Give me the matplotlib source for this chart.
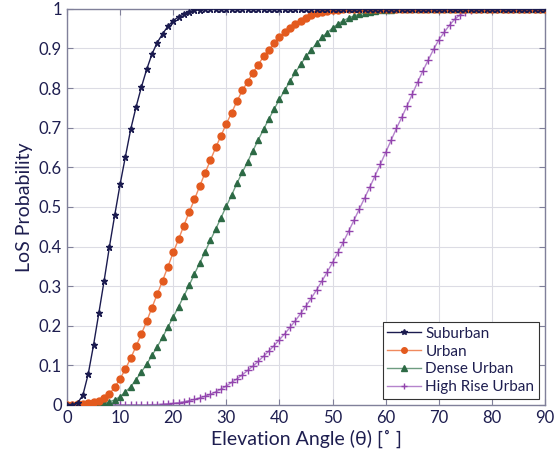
from matplotlib import pyplot as plt

# elevation angle grid (degrees)
angles = list(range(0, 91))

# LoS probability per environment, one value per degree
suburban = [
    0.000, 0.001, 0.005, 0.025, 0.078, 0.151, 0.232, 0.314, 0.400, 0.480,
    0.557, 0.627, 0.696, 0.752, 0.802, 0.847, 0.886, 0.915, 0.937, 0.956,
    0.970, 0.980, 0.988, 0.993, 0.996, 0.998, 0.999, 1.000, 1.000, 1.000,
    1.000, 1.000, 1.000, 1.000, 1.000, 1.000, 1.000, 1.000, 1.000, 1.000,
    1.000, 1.000, 1.000, 1.000, 1.000, 1.000, 1.000, 1.000, 1.000, 1.000,
    1.000, 1.000, 1.000, 1.000, 1.000, 1.000, 1.000, 1.000, 1.000, 1.000,
    1.000, 1.000, 1.000, 1.000, 1.000, 1.000, 1.000, 1.000, 1.000, 1.000,
    1.000, 1.000, 1.000, 1.000, 1.000, 1.000, 1.000, 1.000, 1.000, 1.000,
    1.000, 1.000, 1.000, 1.000, 1.000, 1.000, 1.000, 1.000, 1.000, 1.000,
    1.000,
]
urban = [
    0.001, 0.001, 0.002, 0.003, 0.004, 0.007, 0.011, 0.018, 0.028, 0.045,
    0.066, 0.091, 0.118, 0.148, 0.179, 0.211, 0.246, 0.280, 0.314, 0.349,
    0.385, 0.418, 0.453, 0.487, 0.519, 0.553, 0.586, 0.618, 0.650, 0.680,
    0.710, 0.738, 0.767, 0.794, 0.816, 0.839, 0.859, 0.880, 0.896, 0.913,
    0.928, 0.941, 0.952, 0.962, 0.970, 0.978, 0.984, 0.989, 0.993, 0.995,
    0.997, 0.998, 0.999, 1.000, 1.000, 1.000, 1.000, 1.000, 1.000, 1.000,
    1.000, 1.000, 1.000, 1.000, 1.000, 1.000, 1.000, 1.000, 1.000, 1.000,
    1.000, 1.000, 1.000, 1.000, 1.000, 1.000, 1.000, 1.000, 1.000, 1.000,
    1.000, 1.000, 1.000, 1.000, 1.000, 1.000, 1.000, 1.000, 1.000, 1.000,
    1.000,
]
dense_urban = [
    0.000, 0.000, 0.001, 0.001, 0.001, 0.002, 0.003, 0.005, 0.008, 0.013,
    0.021, 0.033, 0.046, 0.064, 0.083, 0.103, 0.125, 0.147, 0.171, 0.197,
    0.222, 0.248, 0.275, 0.302, 0.331, 0.359, 0.387, 0.416, 0.444, 0.473,
    0.502, 0.530, 0.560, 0.587, 0.614, 0.642, 0.669, 0.696, 0.722, 0.747,
    0.772, 0.795, 0.818, 0.840, 0.860, 0.880, 0.897, 0.913, 0.928, 0.940,
    0.952, 0.962, 0.970, 0.977, 0.982, 0.986, 0.989, 0.992, 0.994, 0.996,
    0.997, 0.998, 0.999, 1.000, 1.000, 1.000, 1.000, 1.000, 1.000, 1.000,
    1.000, 1.000, 1.000, 1.000, 1.000, 1.000, 1.000, 1.000, 1.000, 1.000,
    1.000, 1.000, 1.000, 1.000, 1.000, 1.000, 1.000, 1.000, 1.000, 1.000,
    1.000,
]
high_rise = [
    0.000, 0.000, 0.000, 0.000, 0.000, 0.000, 0.000, 0.000, 0.000, 0.000,
    0.000, 0.000, 0.000, 0.000, 0.000, 0.000, 0.001, 0.001, 0.002, 0.003,
    0.004, 0.006, 0.008, 0.011, 0.014, 0.018, 0.022, 0.027, 0.033, 0.040,
    0.048, 0.057, 0.066, 0.076, 0.087, 0.098, 0.110, 0.123, 0.136, 0.150,
    0.165, 0.180, 0.196, 0.213, 0.231, 0.250, 0.270, 0.291, 0.313, 0.336,
    0.360, 0.385, 0.411, 0.438, 0.466, 0.494, 0.522, 0.550, 0.579, 0.608,
    0.638, 0.668, 0.698, 0.726, 0.755, 0.785, 0.815, 0.844, 0.871, 0.898,
    0.922, 0.941, 0.959, 0.974, 0.985, 0.992, 0.997, 0.999, 1.000, 1.000,
    1.000, 1.000, 1.000, 1.000, 1.000, 1.000, 1.000, 1.000, 1.000, 1.000,
    1.000,
]

labels = ["Suburban", "Urban", "Dense Urban", "High Rise Urban"]
xticks = list(range(0, 91, 10))
yticks = [0, 0.1, 0.2, 0.3, 0.4, 0.5, 0.6, 0.7, 0.8, 0.9, 1]

text_color = "#1e1e50"


def plotLoS():
    plt.rcParams["font.family"] = ["Lato", "DejaVu Sans"]

    fig = plt.figure(figsize=(5.58, 4.66), dpi=100)
    ax = fig.add_axes([0.120, 0.131, 0.857, 0.850])

    # one line per environment, markers on every degree
    ax.plot(angles, suburban, color="#1b1b4f", linewidth=1.0,
            marker="*", markersize=5, markerfacecolor="#1b1b4f",
            markeredgecolor="#1b1b4f", label=labels[0], zorder=5)
    ax.plot(angles, urban, color="#f08a5e", linewidth=1.0,
            marker="o", markersize=5, markerfacecolor="#e35a1e",
            markeredgecolor="#e35a1e", label=labels[1], zorder=4)
    ax.plot(angles, dense_urban, color="#6e9c80", linewidth=1.0,
            marker="^", markersize=5, markerfacecolor="#2d6a45",
            markeredgecolor="#2d6a45", label=labels[2], zorder=3)
    ax.plot(angles, high_rise, color="#b584cc", linewidth=1.0,
            marker="+", markersize=6, markeredgewidth=1.0,
            markeredgecolor="#9244ad", label=labels[3], zorder=2)

    ax.set_xlim(0, 90)
    ax.set_ylim(0, 1)
    ax.set_xticks(xticks)
    ax.set_yticks(yticks)
    ax.set_yticklabels(["0", "0.1", "0.2", "0.3", "0.4", "0.5",
                        "0.6", "0.7", "0.8", "0.9", "1"])

    ax.grid(True, color="#dcdce4", linewidth=0.8)
    ax.set_axisbelow(True)
    for spine in ax.spines.values():
        spine.set_color("#80809a")
        spine.set_linewidth(1.0)
    ax.tick_params(direction="in", top=True, right=True, length=4,
                   color="#80809a", labelsize=12, labelcolor=text_color)

    ax.set_xlabel("Elevation Angle (\u03b8) [\u02da ]", fontsize=14,
                  color=text_color, labelpad=3)
    ax.set_ylabel("LoS Probability", fontsize=14, color=text_color,
                  labelpad=4)

    leg = ax.legend(loc="lower right", fontsize=11, frameon=True,
                    fancybox=False, edgecolor="#333333", framealpha=1.0,
                    borderaxespad=0.4, handlelength=2.2, labelspacing=0.25,
                    borderpad=0.3, handletextpad=0.3, markerscale=0.8)
    leg.get_frame().set_linewidth(0.8)
    for text in leg.get_texts():
        text.set_color(text_color)

    fig.savefig("out.png", dpi=100)


def main():
    plotLoS()


if __name__ == '__main__':
    main()
